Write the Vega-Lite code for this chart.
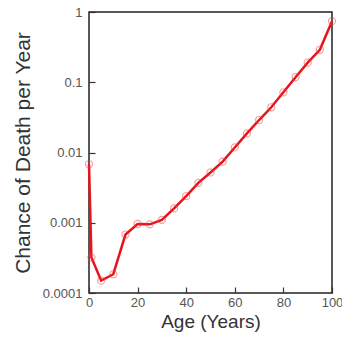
{
  "$schema": "https://vega.github.io/schema/vega-lite/v6.json",
  "width": 243,
  "height": 281,
  "autosize": "none",
  "padding": {"left": 89, "top": 12, "right": 10, "bottom": 44},
  "background": "white",
  "config": {
    "view": {"stroke": "#222", "strokeWidth": 1.5},
    "axis": {"domain": false, "grid": false, "ticks": true, "tickOpacity": 1, "tickColor": "#333", "tickWidth": 1.2, "labelFlush": false, "labelFont": "Liberation Sans", "titleFont": "Liberation Sans", "labelColor": "#555", "labelFontSize": 13, "titleColor": "#333", "titleFontSize": 21, "titleFontWeight": "normal"}
  },
  "data": {"values": [
    {"age": 0, "p": 0.0068},
    {"age": 1, "p": 0.00032},
    {"age": 5, "p": 0.00015},
    {"age": 10, "p": 0.000185},
    {"age": 15, "p": 0.00068},
    {"age": 20, "p": 0.00096},
    {"age": 25, "p": 0.00095},
    {"age": 30, "p": 0.0011},
    {"age": 35, "p": 0.0016},
    {"age": 40, "p": 0.0024},
    {"age": 45, "p": 0.0037},
    {"age": 50, "p": 0.0052},
    {"age": 55, "p": 0.0074},
    {"age": 60, "p": 0.0118},
    {"age": 65, "p": 0.0187},
    {"age": 70, "p": 0.029},
    {"age": 75, "p": 0.044},
    {"age": 80, "p": 0.072},
    {"age": 85, "p": 0.118},
    {"age": 90, "p": 0.19},
    {"age": 95, "p": 0.29},
    {"age": 100, "p": 0.74}
  ]},
  "layer": [
    {
      "mark": {"type": "line", "color": "#e8141c", "strokeWidth": 2.5},
      "encoding": {
        "x": {"field": "age", "type": "quantitative", "scale": {"domain": [0, 100], "nice": false},
          "axis": {"orient": "bottom", "values": [0, 20, 40, 60, 80, 100], "tickSize": -6, "labelPadding": 9, "title": "Age (Years)", "titleFontSize": 19, "titlePadding": 3}},
        "y": {"field": "p", "type": "quantitative", "scale": {"type": "log", "domain": [0.0001, 1], "nice": false},
          "axis": {"orient": "left", "values": [0.0001, 0.001, 0.01, 0.1, 1], "tickSize": -6,
            "labelExpr": "format(datum.value, '~g')",
            "labelPadding": 13, "title": "Chance of Death per Year", "titlePadding": 9}}
      }
    },
    {
      "mark": {"type": "point", "shape": "circle", "size": 50, "stroke": "#f04040", "strokeWidth": 1.2, "strokeOpacity": 0.7, "filled": false},
      "encoding": {
        "x": {"field": "age", "type": "quantitative"},
        "y": {"field": "p", "type": "quantitative"}
      }
    }
  ]
}
